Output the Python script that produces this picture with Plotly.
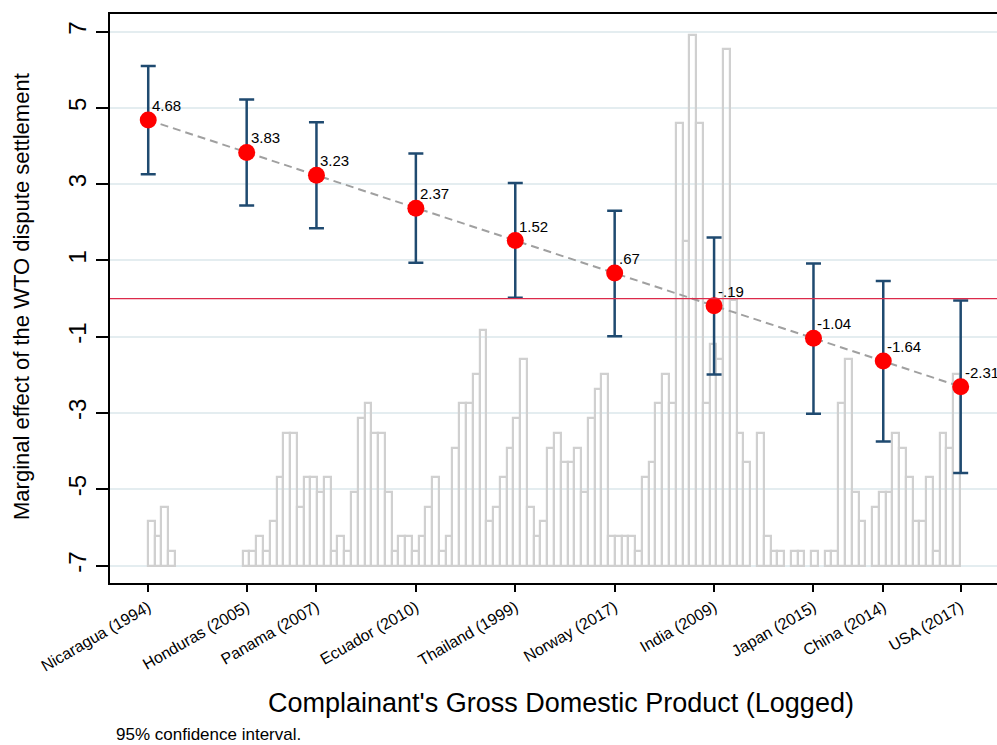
import plotly.graph_objects as go

# ---- data -------------------------------------------------------------
countries = ["Nicaragua (1994)", "Honduras (2005)", "Panama (2007)", "Ecuador (2010)",
             "Thailand (1999)", "Norway (2017)", "India (2009)", "Japan (2015)",
             "China (2014)", "USA (2017)"]
gdp_log = [22.00, 23.03, 23.76, 24.80, 25.84, 26.88, 27.92, 28.96, 29.69, 30.50]
effect = [4.68, 3.83, 3.23, 2.37, 1.52, 0.67, -0.19, -1.04, -1.64, -2.31]
ci_low = [3.26, 2.44, 1.84, 0.94, 0.02, -0.99, -1.99, -3.02, -3.75, -4.57]
ci_high = [6.10, 5.22, 4.62, 3.80, 3.03, 2.30, 1.60, 0.92, 0.46, -0.05]

# histogram of logged GDP (frequency per bin)
hist_start = 21.997
hist_width = 0.0708
hist_counts = [3, 2, 4, 1,
               0, 0, 0, 0, 0, 0, 0, 0, 0, 0,
               1, 1, 2, 1, 3, 6, 9, 9, 4, 6, 6, 5, 6, 1, 2, 1, 5, 10, 11, 9, 9, 5, 1, 2, 2,
               1, 2, 4, 6, 1, 2, 8, 11, 11, 13, 16, 3, 4, 6, 8, 10, 14, 4, 2, 3,
               8, 9, 7, 7, 8, 5, 10, 12, 13, 2, 2, 2, 2, 1, 6, 7, 11, 13, 11, 30, 22, 36, 30,
               11, 15, 14, 35, 18, 9, 7,
               0, 9, 2, 1, 1, 0, 1, 1, 0, 1, 0, 1, 1, 11, 14, 5, 3, 0, 4, 5, 5, 9, 8, 6, 3, 3,
               6, 1, 9, 8, 13]

y_ticks = [-7, -5, -3, -1, 1, 3, 5, 7]
y_ticktext = ["-7", "-5", "-3", "-1", "1", "3", "5", "7"]

# ---- derived ----------------------------------------------------------
hist_x = [hist_start + (i + 0.5) * hist_width for i in range(len(hist_counts))]
hist_y = [c if c > 0 else None for c in hist_counts]
err_plus = [h - e for h, e in zip(ci_high, effect)]
err_minus = [e - l for e, l in zip(effect, ci_low)]


def fmt(v):
    s = f"{v:.2f}"
    return s.replace("0.", ".", 1) if abs(v) < 1 else s


labels = [fmt(v) for v in effect]

FONT = "Liberation Sans, Arial, Helvetica, sans-serif"

fig = go.Figure()

fig.add_trace(go.Bar(
    x=hist_x, y=hist_y, width=hist_width, yaxis="y",
    marker=dict(color="rgba(0,0,0,0)", line=dict(color="#d0d0d0", width=2.2)),
    hoverinfo="skip", showlegend=False))

fig.add_trace(go.Scatter(
    x=gdp_log, y=effect, yaxis="y2", mode="lines",
    line=dict(color="#a0a0a0", width=2, dash="8px,5px"),
    hoverinfo="skip", showlegend=False))

fig.add_trace(go.Scatter(
    x=gdp_log, y=effect, yaxis="y2", mode="markers",
    marker=dict(color="#ff0000", size=17, line=dict(width=0)),
    error_y=dict(type="data", symmetric=False, array=err_plus, arrayminus=err_minus,
                 color="#1f4a70", thickness=2.5, width=7.5),
    showlegend=False))

annotations = []
for x, y, t in zip(gdp_log, effect, labels):
    annotations.append(dict(x=x, y=y, xref="x", yref="y2", text=t, showarrow=False,
                            xanchor="left", yanchor="bottom", xshift=2, yshift=4,
                            font=dict(family=FONT, size=15, color="black")))

annotations += [
    dict(text="Complainant's Gross Domestic Product (Logged)", xref="paper", yref="paper",
         x=0.508, y=-0.211, xanchor="center", yanchor="middle", showarrow=False,
         font=dict(family=FONT, size=27, color="black")),
    dict(text="Marginal effect of the WTO dispute settlement", xref="paper", yref="paper",
         x=-0.099, y=0.503, xanchor="center", yanchor="middle", textangle=-90,
         showarrow=False, font=dict(family=FONT, size=22, color="black")),
    dict(text="95% confidence interval.", xref="paper", yref="paper",
         x=0.004, y=-0.266, xanchor="left", yanchor="middle", showarrow=False,
         font=dict(family=FONT, size=17, color="black")),
]

fig.update_layout(
    width=997, height=745,
    margin=dict(l=110, r=0, t=14, b=162),
    paper_bgcolor="white", plot_bgcolor="white",
    font=dict(family=FONT, color="black"),
    bargap=0,
    xaxis=dict(range=[21.60, 30.88], tickvals=gdp_log, ticktext=countries,
               tickangle=-30, ticks="outside", ticklen=7, tickwidth=1.5, tickcolor="black",
               showline=True, linecolor="black", linewidth=2, mirror=True,
               showgrid=False, zeroline=False, tickfont=dict(size=16, family=FONT)),
    yaxis=dict(range=[-1.176, 37.40], visible=False, showgrid=False, zeroline=False),
    yaxis2=dict(overlaying="y", side="left", anchor="x", range=[-7.457, 7.46],
                tickvals=y_ticks, ticktext=y_ticktext, tickangle=-90, ticks="outside",
                ticklen=12, tickwidth=1.5, tickcolor="black",
                showline=True, linecolor="black", linewidth=2,
                showgrid=True, gridcolor="#e4edf0", gridwidth=2, zeroline=False,
                tickfont=dict(size=24, family=FONT)),
    shapes=[dict(type="line", xref="paper", x0=0, x1=1, yref="y2", y0=0, y1=0,
                 line=dict(color="#dc2a4a", width=1.2), layer="above")],
    annotations=annotations,
)

fig.write_html("out.html",
               config={"displayModeBar": False},
               post_script="document.body.style.margin='0';"
                           "document.body.style.overflow='hidden';")
